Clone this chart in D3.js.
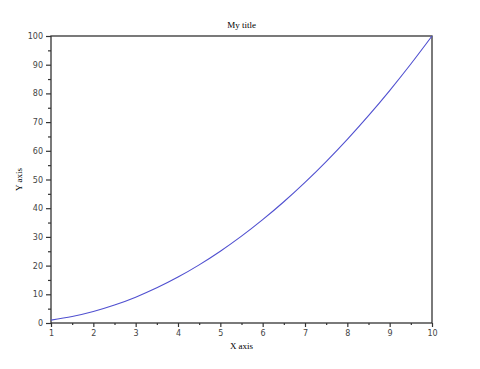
<!DOCTYPE html>
<html>
<head>
<meta charset="utf-8">
<script src="https://cdn.jsdelivr.net/npm/d3@7"></script>
<style>
  body { margin: 0; background: #fff; }
  svg { display: block; }
</style>
</head>
<body>
<svg id="chart"></svg>
<script>
const width = 480;
const height = 369;

// values
const xValues = [1, 1.5, 2, 2.5, 3, 3.5, 4, 4.5, 5, 5.5, 6, 6.5, 7, 7.5, 8, 8.5, 9, 9.5, 10];
const yValues = [1, 2.25, 4, 6.25, 9, 12.25, 16, 20.25, 25, 30.25, 36, 42.25, 49, 56.25, 64, 72.25, 81, 90.25, 100];
const xTicks = [1, 2, 3, 4, 5, 6, 7, 8, 9, 10];
const yTicks = [0, 10, 20, 30, 40, 50, 60, 70, 80, 90, 100];
const xMinor = [1.5, 2.5, 3.5, 4.5, 5.5, 6.5, 7.5, 8.5, 9.5];
const yMinor = [5, 15, 25, 35, 45, 55, 65, 75, 85, 95];

const plotLeft = 51, plotRight = 432, plotTop = 36, plotBottom = 323;
const axisColor = '#333';

const svg = d3.select('#chart')
    .attr('width', width)
    .attr('height', height);

const x = d3.scaleLinear().domain([1, 10]).range([plotLeft, plotRight]);
const y = d3.scaleLinear().domain([0, 100]).range([plotBottom, plotTop]);

// box
svg.append('rect')
    .attr('x', plotLeft).attr('y', plotTop)
    .attr('width', plotRight - plotLeft).attr('height', plotBottom - plotTop)
    .attr('fill', 'none')
    .attr('stroke', axisColor)
    .attr('stroke-width', 1.3);

const xAxis = svg.append('g')
    .attr('transform', `translate(0, ${plotBottom})`)
    .call(d3.axisBottom(x).tickValues(xTicks).tickSize(4).tickPadding(3).tickFormat(d3.format('d')));

const xAxisMinor = svg.append('g')
    .attr('transform', `translate(0, ${plotBottom})`)
    .call(d3.axisBottom(x).tickValues(xMinor).tickSize(2).tickFormat(''));

const yAxis = svg.append('g')
    .attr('transform', `translate(${plotLeft}, 0)`)
    .call(d3.axisLeft(y).tickValues(yTicks).tickSize(5).tickPadding(3));

const yAxisMinor = svg.append('g')
    .attr('transform', `translate(${plotLeft}, 0)`)
    .call(d3.axisLeft(y).tickValues(yMinor).tickSize(3).tickFormat(''));

svg.selectAll('.domain').remove();
svg.selectAll('.tick line').attr('stroke', axisColor).attr('stroke-width', 1.2);
svg.selectAll('.tick text')
    .attr('fill', '#444')
    .style('font-family', 'DejaVu Sans, Verdana, sans-serif')
    .style('font-size', '8px');

const points = xValues.map((v, i) => ({x: v, y: yValues[i]}));

svg.append('path')
    .datum(points)
    .attr('fill', 'none')
    .attr('stroke', '#5050d0')
    .attr('stroke-width', 1.1)
    .attr('d', d3.line().x(d => x(d.x)).y(d => y(d.y)).curve(d3.curveCatmullRom));

// texts
svg.append('text')
    .attr('x', (plotLeft + plotRight) / 2).attr('y', 28)
    .attr('text-anchor', 'middle')
    .style('font-family', 'Liberation Serif, serif')
    .style('font-size', '9px')
    .text('My title');

svg.append('text')
    .attr('x', (plotLeft + plotRight) / 2).attr('y', 349)
    .attr('text-anchor', 'middle')
    .style('font-family', 'Liberation Serif, serif')
    .style('font-size', '9px')
    .text('X axis');

svg.append('text')
    .attr('transform', `translate(22, ${(plotTop + plotBottom) / 2}) rotate(-90)`)
    .attr('text-anchor', 'middle')
    .style('font-family', 'Liberation Serif, serif')
    .style('font-size', '9px')
    .text('Y axis');
</script>
</body>
</html>
